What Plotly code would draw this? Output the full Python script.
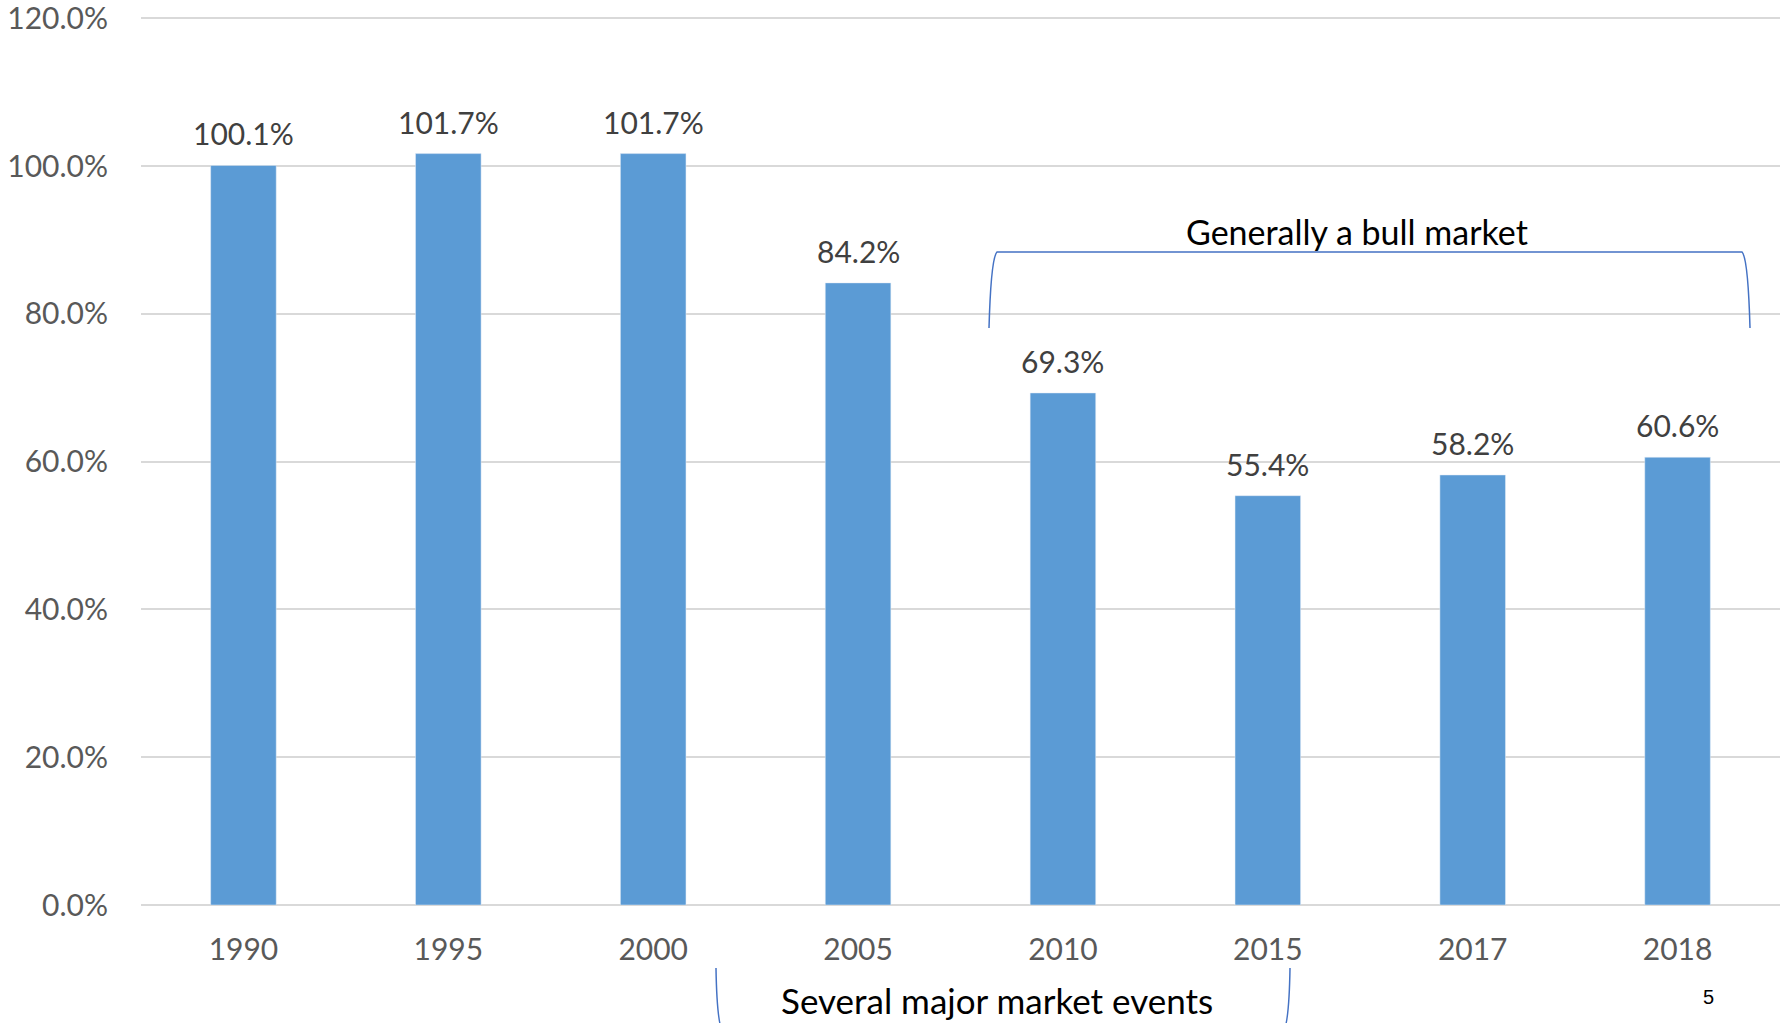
import plotly.graph_objects as go

years = ["1990", "1995", "2000", "2005", "2010", "2015", "2017", "2018"]
values = [100.1, 101.7, 101.7, 84.2, 69.3, 55.4, 58.2, 60.6]
labels = ["100.1%", "101.7%", "101.7%", "84.2%", "69.3%", "55.4%", "58.2%", "60.6%"]
y_ticks = [0, 20, 40, 60, 80, 100, 120]
y_tick_text = ["0.0%", "20.0%", "40.0%", "60.0%", "80.0%", "100.0%", "120.0%"]

W, H = 1790, 1023
L, R, T, B = 141, 10, 11, 118
PW, PH = W - L - R, H - T - B


def px(x):
    return (x - L) / PW


def py(y):
    return (H - B - y) / PH


FONT = "Lato, Carlito, Calibri, sans-serif"

fig = go.Figure()
fig.add_trace(go.Bar(x=years, y=values, marker_color="#5B9BD5", hoverinfo="skip"))

annotations = []
for i, (v, lab) in enumerate(zip(values, labels)):
    annotations.append(dict(x=i, y=v, text=lab, showarrow=False, yanchor="bottom",
                            yshift=12, font=dict(family=FONT, size=30, color="#404040")))

annotations.append(dict(xref="paper", yref="paper", x=px(1357), y=py(232), text="Generally a bull market",
                        showarrow=False, xanchor="center", yanchor="middle",
                        font=dict(family=FONT, size=34, color="#000000")))
annotations.append(dict(xref="paper", yref="paper", x=px(997), y=py(1000), text="Several major market events",
                        showarrow=False, xanchor="center", yanchor="middle",
                        font=dict(family=FONT, size=35, color="#000000")))
annotations.append(dict(xref="paper", yref="paper", x=px(1708), y=py(997), text="5",
                        showarrow=False, xanchor="center", yanchor="middle",
                        font=dict(family="Liberation Sans, Arial", size=20, color="#000000")))


def pt(x, y):
    return f"{px(x):.5f},{py(y):.5f}"


top_path = (f"M {pt(989, 328)} Q {pt(991, 258)} {pt(997, 252)} L {pt(1742, 252)} "
            f"Q {pt(1748, 258)} {pt(1750, 328)}")
bot_path = (f"M {pt(716, 968)} Q {pt(717, 1028)} {pt(724, 1034)} L {pt(1282, 1034)} "
            f"Q {pt(1289, 1028)} {pt(1290, 968)}")

shapes = [
    dict(type="path", xref="paper", yref="paper", path=top_path, line=dict(color="#4472C4", width=1.5)),
    dict(type="path", xref="paper", yref="paper", path=bot_path, line=dict(color="#4472C4", width=1.5)),
]

fig.update_layout(
    width=W, height=H,
    margin=dict(l=L, r=R, t=T, b=B, pad=0),
    paper_bgcolor="white", plot_bgcolor="white",
    showlegend=False,
    annotations=annotations,
    shapes=shapes,
    xaxis=dict(type="category", categoryorder="array", categoryarray=years, range=[-0.5, 7.5],
               automargin=False, showgrid=False, showline=False, ticks="outside", ticklen=18,
               tickcolor="rgba(0,0,0,0)", tickfont=dict(family=FONT, size=30, color="#595959")),
    yaxis=dict(range=[0, 121], tickvals=y_ticks, ticktext=y_tick_text, showgrid=True, gridcolor="#D9D9D9",
               gridwidth=2, zeroline=True, zerolinecolor="#D9D9D9", zerolinewidth=2, showline=False,
               automargin=False, ticks="outside", ticklen=26, tickcolor="rgba(0,0,0,0)",
               ticklabeloverflow="allow", tickfont=dict(family=FONT, size=30, color="#595959")),
    bargap=0.68,
)

fig.write_html("out.html")
